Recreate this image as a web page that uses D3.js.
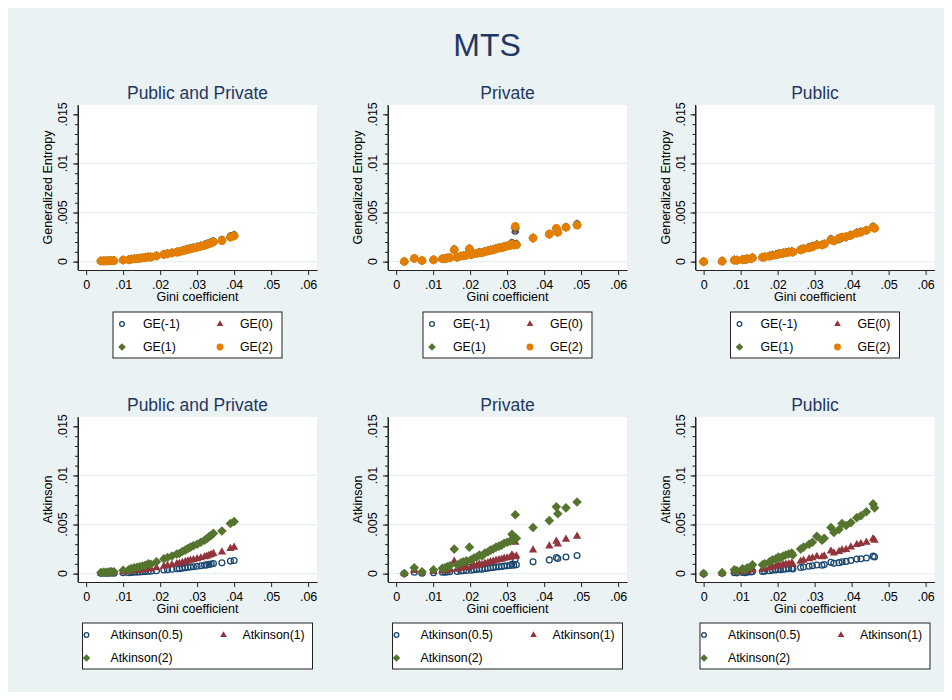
<!DOCTYPE html>
<html>
<head>
<meta charset="utf-8">
<script src="https://cdn.jsdelivr.net/npm/d3@7"></script>
<style>
  body { margin: 0; background: #fff; }
  text { font-family: Arial, "Liberation Sans", sans-serif; }
</style>
</head>
<body>
<script>
(function () {

// ---- data ----
var panelTitles = ["Public and Private", "Private", "Public"]
var geNames = ["GE(-1)", "GE(0)", "GE(1)", "GE(2)"]
var atkNames = ["Atkinson(0.5)", "Atkinson(1)", "Atkinson(2)"]
var xTicks = [0, 0.01, 0.02, 0.03, 0.04, 0.05, 0.06]
var xTickLabels = ["0", ".01", ".02", ".03", ".04", ".05", ".06"]
var yTicks = [0, 0.005, 0.01, 0.015]
var yTickLabels = ["0", ".005", ".01", ".015"]
var yGrid = [0, 0.005, 0.01]

// Public and Private
var ppGini = [0.0040,0.0048,0.0055,0.0062,0.0068,0.0075,0.0100,0.0115,0.0122,0.0130,0.0138,0.0145,0.0152,0.0160,0.0168,0.0175,0.0190,0.0210,0.0220,0.0232,0.0245,0.0252,0.0260,0.0268,0.0275,0.0282,0.0290,0.0300,0.0310,0.0320,0.0326,0.0332,0.0338,0.0344,0.0367,0.0390,0.0400]
var ppGEm1 = [.00006,.00008,.00008,.00009,.00011,.00010,.00017,.00020,.00027,.00031,.00033,.00036,.00040,.00043,.00051,.00048,.00061,.00077,.00084,.00092,.00102,.00104,.00114,.00122,.00130,.00138,.00145,.00153,.00163,.00173,.00181,.00191,.00199,.00209,.00224,.00260,.00273]
var ppGE0 = [.00006,.00008,.00008,.00009,.00011,.00010,.00017,.00020,.00026,.00030,.00032,.00035,.00039,.00042,.00050,.00047,.00060,.00075,.00083,.00090,.00100,.00103,.00112,.00120,.00128,.00135,.00143,.00151,.00161,.00171,.00178,.00188,.00196,.00206,.00221,.00256,.00270]
var ppGE1 = [.00006,.00008,.00008,.00009,.00011,.00010,.00017,.00020,.00025,.00030,.00032,.00035,.00039,.00042,.00049,.00047,.00059,.00073,.00081,.00089,.00099,.00101,.00111,.00119,.00126,.00133,.00140,.00148,.00158,.00168,.00175,.00185,.00193,.00203,.00217,.00252,.00265]
var ppGE2 = [.00006,.00008,.00008,.00009,.00011,.00010,.00017,.00019,.00025,.00029,.00031,.00034,.00038,.00041,.00048,.00046,.00058,.00072,.00080,.00088,.00097,.00100,.00109,.00117,.00124,.00131,.00138,.00146,.00156,.00165,.00172,.00182,.00190,.00200,.00214,.00248,.00262]
var ppA05 = [.00003,.00004,.00004,.00005,.00006,.00005,.00009,.00010,.00013,.00015,.00016,.00018,.00020,.00021,.00025,.00024,.00030,.00038,.00041,.00045,.00050,.00051,.00056,.00060,.00064,.00068,.00071,.00075,.00080,.00085,.00089,.00094,.00098,.00103,.00110,.00128,.00134]
var ppA1 = [.00006,.00008,.00008,.00009,.00011,.00010,.00017,.00020,.00026,.00030,.00032,.00035,.00039,.00042,.00050,.00047,.00060,.00075,.00082,.00090,.00100,.00102,.00112,.00120,.00127,.00135,.00142,.00150,.00160,.00170,.00177,.00187,.00195,.00205,.00220,.00255,.00268]
var ppA2 = [.00012,.00016,.00015,.00018,.00022,.00020,.00035,.00040,.00052,.00060,.00065,.00070,.00078,.00085,.00100,.00095,.00120,.00150,.00165,.00180,.00200,.00205,.00225,.00240,.00255,.00270,.00285,.00300,.00320,.00340,.00355,.00375,.00390,.00410,.00435,.00510,.00530]

// Private
var prGini = [0.0022,0.0049,0.0070,0.0101,0.0125,0.0132,0.0138,0.0145,0.0157,0.0165,0.0175,0.0182,0.0190,0.0198,0.0203,0.0210,0.0218,0.0225,0.0232,0.0240,0.0248,0.0255,0.0262,0.0270,0.0278,0.0285,0.0292,0.0300,0.0308,0.0313,0.0318,0.0322,0.0325,0.0370,0.0414,0.0433,0.0437,0.0459,0.0489]
var prGEm1 = [.00001,.00030,.00010,.00021,.00028,.00030,.00035,.00041,.00128,.00046,.00055,.00061,.00066,.00134,.00071,.00081,.00086,.00097,.00091,.00107,.00112,.00122,.00127,.00137,.00142,.00147,.00157,.00162,.00167,.00195,.00172,.00310,.00183,.00245,.00285,.00340,.00305,.00355,.00385]
var prGE0 = [.00001,.00031,.00010,.00020,.00028,.00030,.00035,.00040,.00125,.00045,.00055,.00060,.00065,.00132,.00070,.00080,.00085,.00095,.00090,.00105,.00110,.00120,.00125,.00135,.00140,.00145,.00155,.00160,.00165,.00190,.00170,.00320,.00180,.00242,.00282,.00332,.00302,.00352,.00382]
var prGE1 = [.00001,.00032,.00011,.00019,.00029,.00031,.00037,.00040,.00122,.00045,.00057,.00060,.00065,.00131,.00071,.00080,.00085,.00092,.00091,.00102,.00110,.00117,.00122,.00132,.00139,.00143,.00152,.00160,.00165,.00185,.00170,.00340,.00176,.00240,.00280,.00335,.00300,.00350,.00375]
var prGE2 = [.00001,.00033,.00012,.00018,.00030,.00032,.00038,.00040,.00120,.00045,.00058,.00060,.00065,.00130,.00072,.00080,.00085,.00090,.00092,.00100,.00110,.00115,.00120,.00130,.00140,.00140,.00150,.00160,.00165,.00180,.00170,.00360,.00170,.00240,.00280,.00340,.00300,.00350,.00370]
var prA05 = [.00001,.00015,.00005,.00010,.00014,.00015,.00018,.00020,.00062,.00023,.00028,.00030,.00033,.00065,.00035,.00040,.00043,.00048,.00045,.00053,.00055,.00060,.00063,.00068,.00070,.00073,.00078,.00080,.00083,.00095,.00085,.00150,.00090,.00120,.00140,.00165,.00155,.00170,.00185]
var prA1 = [.00001,.00030,.00010,.00020,.00028,.00030,.00035,.00040,.00125,.00045,.00055,.00060,.00065,.00130,.00070,.00080,.00085,.00095,.00090,.00105,.00110,.00120,.00125,.00135,.00140,.00145,.00155,.00160,.00165,.00190,.00170,.00320,.00180,.00240,.00280,.00330,.00300,.00350,.00380]
var prA2 = [.00002,.00060,.00020,.00040,.00055,.00060,.00070,.00080,.00250,.00090,.00110,.00120,.00130,.00270,.00140,.00160,.00170,.00190,.00180,.00210,.00220,.00240,.00250,.00270,.00280,.00290,.00310,.00320,.00330,.00400,.00340,.00600,.00360,.00470,.00540,.00680,.00610,.00670,.00730]

// Public
var puGini = [0.0000,0.0050,0.0083,0.0090,0.0105,0.0112,0.0118,0.0128,0.0132,0.0159,0.0165,0.0178,0.0186,0.0195,0.0202,0.0208,0.0215,0.0222,0.0230,0.0238,0.0241,0.0262,0.0270,0.0285,0.0294,0.0306,0.0320,0.0326,0.0344,0.0352,0.0366,0.0374,0.0385,0.0398,0.0414,0.0425,0.0440,0.0458,0.0462]
var puGEm1 = [.00000,.00005,.00019,.00015,.00025,.00020,.00030,.00035,.00045,.00046,.00051,.00061,.00071,.00076,.00086,.00081,.00091,.00096,.00101,.00106,.00096,.00126,.00136,.00152,.00162,.00176,.00172,.00182,.00233,.00212,.00228,.00244,.00250,.00273,.00298,.00308,.00323,.00360,.00345]
var puGE0 = [.00000,.00005,.00018,.00015,.00023,.00021,.00029,.00033,.00042,.00045,.00050,.00059,.00068,.00073,.00082,.00080,.00089,.00094,.00099,.00104,.00096,.00124,.00134,.00148,.00158,.00174,.00170,.00180,.00229,.00210,.00226,.00242,.00247,.00270,.00295,.00304,.00320,.00355,.00341]
var puGE1 = [.00000,.00005,.00016,.00015,.00021,.00021,.00028,.00031,.00040,.00045,.00049,.00057,.00065,.00070,.00078,.00080,.00087,.00092,.00097,.00102,.00097,.00122,.00132,.00144,.00154,.00172,.00170,.00180,.00225,.00210,.00232,.00245,.00250,.00270,.00292,.00302,.00320,.00352,.00340]
var puGE2 = [.00000,.00005,.00015,.00015,.00020,.00022,.00028,.00030,.00038,.00045,.00048,.00055,.00062,.00068,.00075,.00080,.00085,.00090,.00095,.00100,.00098,.00120,.00130,.00140,.00150,.00170,.00170,.00180,.00220,.00210,.00240,.00250,.00255,.00270,.00290,.00300,.00320,.00350,.00340]
var puA05 = [.00000,.00003,.00010,.00008,.00013,.00010,.00015,.00018,.00023,.00023,.00025,.00030,.00035,.00038,.00042,.00040,.00045,.00048,.00050,.00053,.00048,.00062,.00067,.00075,.00080,.00088,.00085,.00092,.00115,.00105,.00112,.00120,.00125,.00135,.00148,.00152,.00160,.00178,.00170]
var puA1 = [.00000,.00005,.00020,.00015,.00025,.00020,.00030,.00035,.00045,.00045,.00050,.00060,.00070,.00075,.00085,.00080,.00090,.00095,.00100,.00105,.00095,.00125,.00135,.00150,.00160,.00175,.00170,.00180,.00230,.00210,.00225,.00240,.00245,.00270,.00295,.00305,.00320,.00355,.00340]
var puA2 = [.00000,.00010,.00040,.00030,.00050,.00040,.00060,.00070,.00090,.00090,.00100,.00120,.00140,.00150,.00170,.00160,.00180,.00190,.00200,.00210,.00190,.00250,.00270,.00300,.00320,.00380,.00340,.00360,.00470,.00420,.00450,.00510,.00490,.00520,.00570,.00590,.00630,.00710,.00670]

// ---- layout ----
var width = 952, height = 700
var plotW = 239, plotH = 165
var colLeft = [78, 388, 695.5]
var rowTop = [105, 417]
var navy = "#1a476f", maroon = "#90353b", green = "#55752f", orange = "#e37e00"
var titleColor = "#1f3864"

var svg = d3.select("body").append("svg")
  .attr("width", width)
  .attr("height", height)

svg.append("rect")
  .attr("x", 8).attr("y", 8)
  .attr("width", 936).attr("height", 684)
  .attr("fill", "#eaf2f3")

svg.append("text")
  .attr("x", 487).attr("y", 56)
  .attr("text-anchor", "middle")
  .attr("font-size", 32)
  .attr("fill", titleColor)
  .text("MTS")

var columns = [
  { gini: ppGini, ge: [ppGEm1, ppGE0, ppGE1, ppGE2], atk: [ppA05, ppA1, ppA2] },
  { gini: prGini, ge: [prGEm1, prGE0, prGE1, prGE2], atk: [prA05, prA1, prA2] },
  { gini: puGini, ge: [puGEm1, puGE0, puGE1, puGE2], atk: [puA05, puA1, puA2] }
]

var rows = [
  { key: "ge", yTitle: "Generalized Entropy", names: geNames,
    markers: ["hollow", "triangle", "diamond", "dot"], colors: [navy, maroon, green, orange] },
  { key: "atk", yTitle: "Atkinson", names: atkNames,
    markers: ["hollow", "triangle", "diamond"], colors: [navy, maroon, green] }
]

function drawMarker(g, type, color, x, y, s) {
  if (type == "hollow") {
    g.append("circle").attr("cx", x).attr("cy", y).attr("r", 2.9 * s)
      .attr("fill", "none").attr("stroke", color).attr("stroke-width", 1.3)
  } else if (type == "dot") {
    g.append("circle").attr("cx", x).attr("cy", y).attr("r", 4.3 * s)
      .attr("fill", color)
  } else if (type == "triangle") {
    g.append("path").attr("d", d3.symbol(d3.symbolTriangle, 30 * s * s)())
      .attr("transform", "translate(" + x + "," + y + ")")
      .attr("fill", color)
  } else {
    g.append("path").attr("d", d3.symbol(d3.symbolSquare, 46 * s * s)())
      .attr("transform", "translate(" + x + "," + y + ") rotate(45)")
      .attr("fill", color)
  }
}

rows.forEach(function (row, ri) {
  columns.forEach(function (col, ci) {
    var L = colLeft[ci], T = rowTop[ri], B = T + plotH
    var x = d3.scaleLinear().domain([-0.0022, 0.0624]).range([L, L + plotW])
    var y = d3.scaleLinear().domain([-0.00085, 0.01595]).range([B, T])
    var g = svg.append("g")

    g.append("rect").attr("x", L).attr("y", T)
      .attr("width", plotW).attr("height", plotH).attr("fill", "#fff")

    g.selectAll(".grid").data(yGrid).enter().append("line")
      .attr("x1", L).attr("x2", L + plotW)
      .attr("y1", function (d) { return y(d) })
      .attr("y2", function (d) { return y(d) })
      .attr("stroke", "#e6eff1").attr("stroke-width", 1.3)

    // points, series in order so the last one sits on top
    var series = col[row.key]
    series.forEach(function (vals, si) {
      col.gini.forEach(function (gv, k) {
        drawMarker(g, row.markers[si], row.colors[si], x(gv), y(vals[k]), 1)
      })
    })

    // y axis with minor ticks
    var yMinor = d3.range(0, 0.0155, 0.001)
    g.append("g").attr("transform", "translate(" + L + ",0)")
      .call(d3.axisLeft(y).tickValues(yMinor).tickSize(3).tickSizeOuter(0).tickFormat(""))
    var ya = g.append("g").attr("transform", "translate(" + L + ",0)")
      .call(d3.axisLeft(y).tickValues(yTicks).tickSize(5).tickSizeOuter(0).tickFormat(""))
    ya.select(".domain").attr("d", "M0," + B + "V" + T)

    g.selectAll(".ylab").data(yTicks).enter().append("text")
      .attr("transform", function (d) { return "translate(" + (L - 11) + "," + y(d) + ") rotate(-90)" })
      .attr("text-anchor", "middle")
      .attr("font-size", 12.5)
      .text(function (d, i) { return yTickLabels[i] })

    var xa = g.append("g").attr("transform", "translate(0," + B + ")")
      .call(d3.axisBottom(x).tickValues(xTicks).tickSize(5).tickSizeOuter(0).tickPadding(5)
        .tickFormat(function (d, i) { return xTickLabels[i] }))
    xa.selectAll("text").attr("font-size", 12.5).attr("font-family", "Arial, 'Liberation Sans', sans-serif")

    svg.selectAll("path.domain, .tick line").attr("stroke", "#222")

    g.append("text")
      .attr("x", L + plotW / 2).attr("y", B + 31)
      .attr("text-anchor", "middle").attr("font-size", 12.5)
      .text("Gini coefficient")

    g.append("text")
      .attr("transform", "translate(" + (L - 26) + "," + (T + plotH / 2) + ") rotate(-90)")
      .attr("text-anchor", "middle").attr("font-size", 12.5)
      .text(row.yTitle)

    g.append("text")
      .attr("x", L + plotW / 2).attr("y", T - 6)
      .attr("text-anchor", "middle").attr("font-size", 17.5)
      .attr("fill", titleColor)
      .text(panelTitles[ci])

    // legend
    var lw = ri == 0 ? 169 : 230
    var bx = L + plotW / 2 - lw / 2, by = B + (ri == 0 ? 42 : 41)
    var lg = svg.append("g")
    lg.append("rect").attr("x", bx).attr("y", by).attr("width", lw).attr("height", 46)
      .attr("fill", "#fff").attr("stroke", "#222").attr("stroke-width", 1)
    var mx = ri == 0 ? [9, 107] : [4, 141]
    var tx = ri == 0 ? [30, 127] : [28, 160]
    row.names.forEach(function (name, ni) {
      var c = ni % 2, r = Math.floor(ni / 2)
      var yy = by + 12 + r * 23
      drawMarker(lg, row.markers[ni], row.colors[ni], bx + mx[c], yy, 0.8)
      lg.append("text").attr("x", bx + tx[c]).attr("y", yy + 4.3)
        .attr("font-size", 12.3).text(name)
    })
  })
})

}())
</script>
</body>
</html>
